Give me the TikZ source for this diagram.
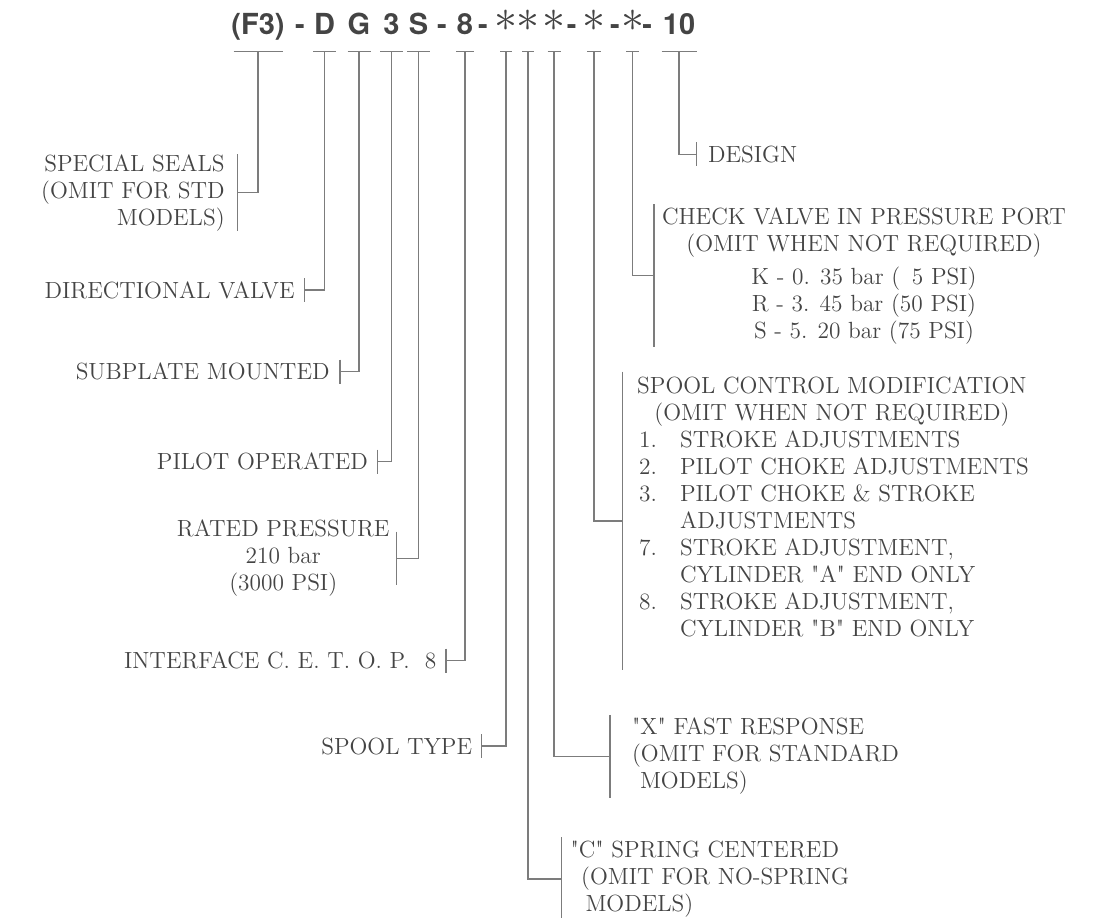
\documentclass[tikz,border=0pt]{standalone}
\usepackage{fontspec}
\newfontfamily\codefont{TeX Gyre Heros}
\definecolor{ink}{HTML}{444444}
\definecolor{wire}{HTML}{7C7C7C}
\tikzset{
  code/.style={font=\codefont\bfseries\fontsize{14.5}{16}\selectfont, text=ink, anchor=base, inner sep=0pt},
  star/.style={text=ink, inner sep=0pt},
  lbl/.style={font=\fontsize{11.7}{13.5}\selectfont, text=ink, inner ysep=1.5pt, inner xsep=5pt},
  lead/.style={draw=wire, line width=0.6pt}
}
\newcommand\aster{\scalebox{2.3}{$\ast$}}
\begin{document}
\begin{tikzpicture}[x=0.5pt,y=-0.5pt]
\useasboundingbox (0,0) rectangle (1104,917);

% kod
\node[code] (cF3) at (258,34.5) {(F3)};
\node[code] (d1) at (300,34.5) {-};
\node[code] (cD) at (324.5,34.5) {D};
\node[code] (cG) at (359,34.5) {G};
\node[code] (c3) at (391.5,34.5) {3};
\node[code] (cS) at (418.5,34.5) {S};
\node[code] (d2) at (442,34.5) {-};
\node[code] (c8) at (465,34.5) {8};
\node[code] (d3) at (483,34.5) {-};
\node[star] (a1) at (506,21) {\aster};
\node[star] (a2) at (528,21) {\aster};
\node[star] (a3) at (554,21) {\aster};
\node[code] (d4) at (571.7,34.5) {-};
\node[star] (a4) at (594,21) {\aster};
\node[code] (d5) at (615,34.5) {-};
\node[star] (a5) at (632.5,21) {\aster};
\node[code] (d6) at (647.3,34.5) {-};
\node[code] (c10) at (679,34.5) {10};
\coordinate (bar) at (0,51.7);

% T
\foreach \n/\w in {cF3/24.5, cD/11.5, cG/11.5, c3/11.5, cS/11.5, c8/9, a1/6, a2/6, a3/6.5, a4/7, a5/6.5, c10/17.5}
  \draw[lead] (\n |- bar) ++(-\w,0) -- ++(2*\w,0);

% popisky vlevo
\node[lbl, anchor=east, align=right, inner xsep=6.3pt, inner ysep=0pt] (lSeals) at (237.7,192.7) {SPECIAL SEALS\\(OMIT FOR STD\\MODELS)};
\node[lbl, anchor=east, inner xsep=4.6pt] (lDir) at (304.3,290) {DIRECTIONAL VALVE};
\node[lbl, anchor=east] (lSub) at (340,371.7) {SUBPLATE MOUNTED};
\node[lbl, anchor=east, inner xsep=4.7pt] (lPilot) at (377.7,461.7) {PILOT OPERATED};
\node[lbl, anchor=east, align=center, inner xsep=3.4pt, inner ysep=-6pt] (lRated) at (396.7,558.3) {RATED PRESSURE\\210 bar\\(3000 PSI)};
\node[lbl, anchor=east, inner xsep=4.6pt] (lIface) at (446,660.7) {INTERFACE C. E. T. O. P.\ \ 8};
\node[lbl, anchor=east, inner xsep=4.6pt] (lSpool) at (481.7,746) {SPOOL TYPE};

% popisky vpravo
\node[lbl, anchor=west, inner xsep=5.5pt] (lDesign) at (696.7,154.3) {DESIGN};
\node[lbl, anchor=west, align=center, inner xsep=3.8pt] (lCheck) at (654,275.7)
  {CHECK VALVE IN PRESSURE PORT\\(OMIT WHEN NOT REQUIRED)\\[3pt]
   K - 0. 35 bar (\ \,5 PSI)\\R - 3. 45 bar (50 PSI)\\S - 5. 20 bar (75 PSI)};
\node[lbl, anchor=west, inner xsep=6pt] (lCtrl) at (622.7,521) {%
  \begin{tabular}{@{}p{22.5pt}@{}l@{}}
  \multicolumn{2}{@{}c@{}}{SPOOL CONTROL MODIFICATION}\\
  \multicolumn{2}{@{}c@{}}{(OMIT WHEN NOT REQUIRED)}\\
  \hspace{2pt}1. & STROKE ADJUSTMENTS\\
  \hspace{2pt}2. & PILOT CHOKE ADJUSTMENTS\\
  \hspace{2pt}3. & PILOT CHOKE \& STROKE\\
                 & ADJUSTMENTS\\
  \hspace{2pt}7. & STROKE ADJUSTMENT,\\
                 & CYLINDER \textquotedbl A\textquotedbl{} END ONLY\\
  \hspace{2pt}8. & STROKE ADJUSTMENT,\\
                 & CYLINDER \textquotedbl B\textquotedbl{} END ONLY\rule[-15pt]{0pt}{0pt}
  \end{tabular}};
\node[lbl, anchor=west, align=left, inner xsep=10.8pt] (lFast) at (610,756.5)
  {\textquotedbl X\textquotedbl{} FAST RESPONSE\\(OMIT FOR STANDARD\\\hspace{4pt}MODELS)};
\node[lbl, anchor=west, align=left, inner xsep=4.2pt] (lSpring) at (561.7,879)
  {\textquotedbl C\textquotedbl{} SPRING CENTERED\\\hspace{5.3pt}(OMIT FOR NO-SPRING\\\hspace{7.5pt}MODELS)};

% zavorky
\foreach \n in {lSeals,lDir,lSub,lPilot,lRated,lIface,lSpool}
  \draw[lead] (\n.north east) -- (\n.south east);
\foreach \n in {lDesign,lCheck,lCtrl,lFast,lSpring}
  \draw[lead] (\n.north west) -- (\n.south west);

% spojnice
\foreach \c/\l in {cF3/lSeals.east, cD/lDir.east, cG/lSub.east, c3/lPilot.east, cS/lRated.east,
    c8/lIface.east, a1/lSpool.east, a2/lSpring.west, a3/lFast.west, a4/lCtrl.west,
    a5/lCheck.west, c10/lDesign.west}
  \draw[lead] (\c |- bar) |- (\l);

\end{tikzpicture}
\end{document}
